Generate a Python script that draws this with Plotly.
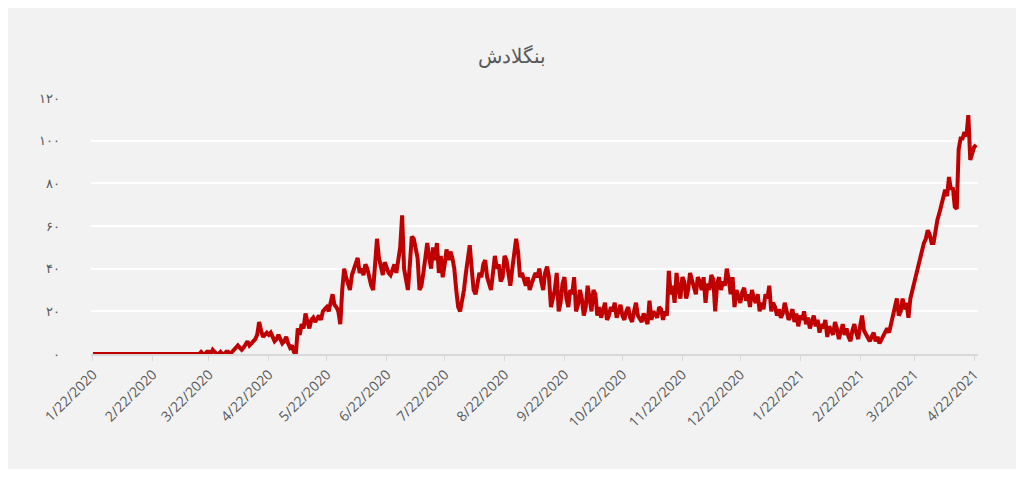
import plotly.graph_objects as go
import pandas as pd

# daily deaths, Bangladesh (1/22/2020 .. 4/23/2021)
jan_feb_2020 = [0] * 39
mar_2020 = [0] * 17 + [1, 0, 0, 1, 1, 0, 2, 1, 0, 0, 1, 0, 0, 1]
apr_2020 = [1, 0, 1, 2, 3, 4, 3, 2, 3, 5, 6, 4, 5, 6, 7, 9, 15, 11, 8, 9,
            10, 9, 10, 8, 6, 7, 9, 7, 5, 6]
may_2020 = [8, 5, 3, 4, 1, 0, 12, 9, 14, 12, 19, 15, 12, 16, 17, 15,
            17, 18, 16, 20, 21, 22, 20, 24, 28, 23, 22, 20, 14, 30, 40]
jun_2020 = [36, 32, 30, 37, 40, 42, 45, 38, 40, 37, 42, 40, 35, 32, 30, 42, 54, 45, 40, 37,
            43, 40, 38, 37, 39, 42, 38, 44, 50, 65]
jul_2020 = [40, 35, 30, 42, 55, 54, 48, 45, 30, 32, 38, 45, 52, 45, 40, 50, 44, 52, 38, 46,
            36, 42, 49, 44, 48, 45, 40, 30, 22, 20, 24]
aug_2020 = [30, 38, 44, 51, 40, 30, 28, 34, 38, 36, 42, 44, 36, 33, 30, 38, 46, 40, 42, 34,
            36, 46, 44, 38, 32, 40, 46, 54, 48, 36, 38]
sep_2020 = [34, 32, 36, 30, 33, 35, 38, 36, 40, 34, 30, 38, 41, 36, 22, 26, 30, 38, 20, 24,
            33, 36, 26, 22, 30, 28, 36, 20, 23, 30]
oct_2020 = [26, 18, 22, 32, 24, 20, 30, 28, 18, 22, 17, 20, 24, 16, 18, 22, 20, 24, 17, 20,
            23, 18, 16, 20, 22, 17, 15, 20, 24, 18, 16]
nov_2020 = [15, 19, 17, 14, 25, 16, 20, 18, 17, 22, 21, 16, 20, 18, 39, 28, 32, 24, 38, 30,
            26, 36, 34, 26, 30, 38, 35, 32, 28, 36]
dec_2020 = [34, 30, 36, 24, 33, 30, 37, 35, 20, 33, 36, 30, 34, 32, 40, 35, 28, 36, 22, 30,
            27, 24, 29, 31, 25, 28, 22, 30, 26, 24, 28]
jan_2021 = [20, 24, 21, 28, 26, 32, 20, 24, 22, 18, 21, 17, 19, 24, 20, 16, 18, 21, 15, 19,
            13, 18, 16, 20, 14, 17, 12, 15, 18, 13, 16]
feb_2021 = [10, 14, 12, 16, 8, 13, 11, 9, 15, 12, 7, 10, 14, 9, 12, 8, 6, 11, 14, 10,
            7, 13, 18, 11, 9, 7, 6, 8]
mar_2021 = [10, 6, 8, 5, 7, 9, 11, 12, 10, 14, 18, 22, 26, 18, 20, 26, 21, 24, 17, 26,
            30, 33, 36, 40, 45, 48, 52, 54, 58, 56, 52]
apr_2021 = [52, 59, 63, 66, 70, 74, 77, 74, 83, 77, 78, 69, 68, 96, 101, 101, 104, 102,
            112, 91, 95, 97, 98]

deaths = (jan_feb_2020 + mar_2020 + apr_2020 + may_2020 + jun_2020 + jul_2020 + aug_2020
          + sep_2020 + oct_2020 + nov_2020 + dec_2020 + jan_2021 + feb_2021 + mar_2021 + apr_2021)
dates = pd.date_range('2020-01-22', periods=len(deaths), freq='D')

tick_dates = pd.date_range('2020-01-01', '2021-04-22', freq='MS') + pd.Timedelta(days=21)
tick_text = ['{}/22/{}'.format(d.month, d.year) for d in tick_dates]
y_vals = [0, 20, 40, 60, 80, 100, 120]
y_text = ['۰', '۲۰', '۴۰', '۶۰', '۸۰', '۱۰۰', '۱۲۰']

fig = go.Figure(go.Scatter(x=dates, y=deaths, mode='lines',
                           line=dict(color='#c00000', width=4)))
fig.update_layout(
    paper_bgcolor='#f2f2f2', plot_bgcolor='#f2f2f2',
    margin=dict(l=83, r=38, t=90, b=115),
    title=dict(text='بنگلادش', x=0.5, y=0.91, xanchor='center',
               font=dict(family='Noto Sans', size=20, color='#595959')),
    font=dict(family='Open Sans', color='#595959'),
    showlegend=False,
)
fig.update_xaxes(range=['2020-01-21', '2021-04-24'], tickvals=tick_dates, ticktext=tick_text,
                 tickangle=-45, tickfont=dict(size=14), showgrid=False,
                 showline=True, linecolor='#d9d9d9', linewidth=1.5,
                 ticks='outside', tickcolor='#d9d9d9', ticklen=5)
fig.update_yaxes(range=[0, 120], tickvals=y_vals, ticktext=y_text, tickfont=dict(size=13),
                 gridcolor='#ffffff', gridwidth=1.5, zeroline=False, ticklabelstandoff=30)
fig.write_html("out.html", default_width='100%', default_height='100%')
